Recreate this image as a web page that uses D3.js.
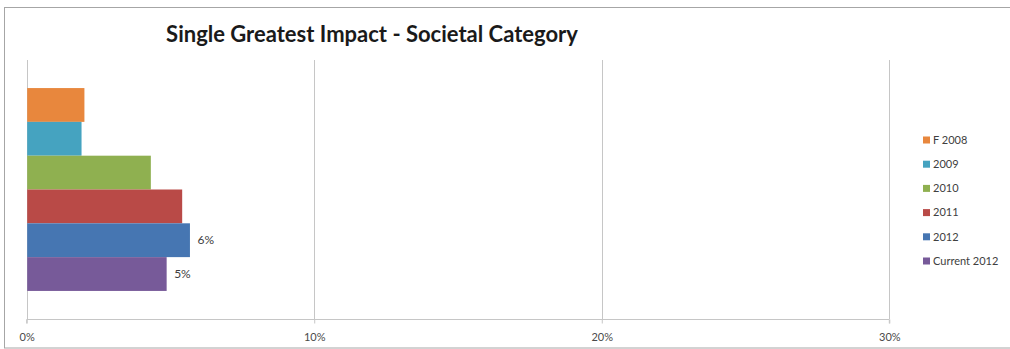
<!DOCTYPE html>
<html>
<head>
<meta charset="utf-8">
<script src="https://cdn.jsdelivr.net/npm/d3@7"></script>
<style>
  html, body { margin: 0; padding: 0; background: #fff; }
  svg { display: block; }
</style>
</head>
<body>
<svg id="chart" width="1010" height="349"></svg>
<script>
// Series (one bar each) within the single "Societal" category
const seriesNames = ["F 2008", "2009", "2010", "2011", "2012", "Current 2012"];
const seriesValues = [1.99, 1.89, 4.30, 5.39, 5.66, 4.85];   // percent
const seriesColors = ["#E8873D", "#45A3C0", "#8FB050", "#B94A47", "#4676B2", "#775A99"];
const labelledSeries = ["2012", "Current 2012"];               // series that carry a data label
const xTicks = [0, 10, 20, 30];
const chartTitle = "Single Greatest Impact - Societal Category";

const svg = d3.select("#chart");
const W = 1010, H = 349;
const font = "Lato, 'Open Sans', sans-serif";

// chart frame
svg.append("rect")
  .attr("x", 4.5).attr("y", 7.5)
  .attr("width", W + 10).attr("height", 340.5)
  .attr("fill", "#fff").attr("stroke", "#a6a6a6").attr("stroke-width", 1);

const plot = { left: 26.7, right: 889.3, top: 60, bottom: 319 };

const x = d3.scaleLinear().domain([0, 30]).range([plot.left, plot.right]);
const y = d3.scaleBand().domain(seriesNames)
  .range([plot.top, plot.bottom]).paddingInner(0).paddingOuter(0.83);

// vertical gridlines
svg.append("g").selectAll("line").data(xTicks).join("line")
  .attr("x1", d => Math.round(x(d)) + 0.5).attr("x2", d => Math.round(x(d)) + 0.5)
  .attr("y1", plot.top).attr("y2", plot.bottom)
  .attr("stroke", "#c6c6c6").attr("stroke-width", 1);

// bars
svg.append("g").selectAll("rect").data(seriesNames).join("rect")
  .attr("x", x(0) + 0.5)
  .attr("y", d => y(d))
  .attr("width", (d, i) => x(seriesValues[i]) - x(0))
  .attr("height", y.bandwidth())
  .attr("fill", (d, i) => seriesColors[i]);

// data labels
svg.append("g").selectAll("text")
  .data(seriesNames.map((n, i) => ({ n, v: seriesValues[i] })).filter(d => labelledSeries.includes(d.n)))
  .join("text")
  .attr("x", d => x(d.v) + 8)
  .attr("y", d => y(d.n) + y.bandwidth() / 2)
  .attr("dy", "0.35em")
  .attr("font-family", font).attr("font-size", 12).attr("fill", "#404040")
  .text(d => d3.format(".0f")(d.v) + "%");

// x axis
const axis = svg.append("g")
  .attr("transform", `translate(0,${plot.bottom + 0.5})`)
  .call(d3.axisBottom(x).tickValues(xTicks).tickSize(4).tickPadding(10)
    .tickFormat(d => d + "%"));
axis.select(".domain").attr("stroke", "#c6c6c6").attr("d", `M${x(0)},4V0H${x(30)}V4`);
axis.selectAll(".tick line").attr("stroke", "#c6c6c6");
axis.selectAll(".tick text")
  .attr("font-family", font).attr("font-size", 11).attr("fill", "#4a4a4a");

// title
svg.append("text")
  .attr("x", 372).attr("y", 42)
  .attr("text-anchor", "middle")
  .attr("font-family", font).attr("font-weight", "bold").attr("font-size", 22)
  .attr("fill", "#1a1a1a")
  .text(chartTitle);

// legend
const legend = svg.append("g").attr("transform", "translate(923,140)");
const item = legend.selectAll("g").data(seriesNames).join("g")
  .attr("transform", (d, i) => `translate(0,${i * 24.2})`);
item.append("rect")
  .attr("x", 0).attr("y", -3.5).attr("width", 7).attr("height", 7)
  .attr("fill", (d, i) => seriesColors[i]);
item.append("text")
  .attr("x", 10).attr("y", 0).attr("dy", "0.35em")
  .attr("font-family", font).attr("font-size", 11).attr("fill", "#404040")
  .text(d => d);
</script>
</body>
</html>
